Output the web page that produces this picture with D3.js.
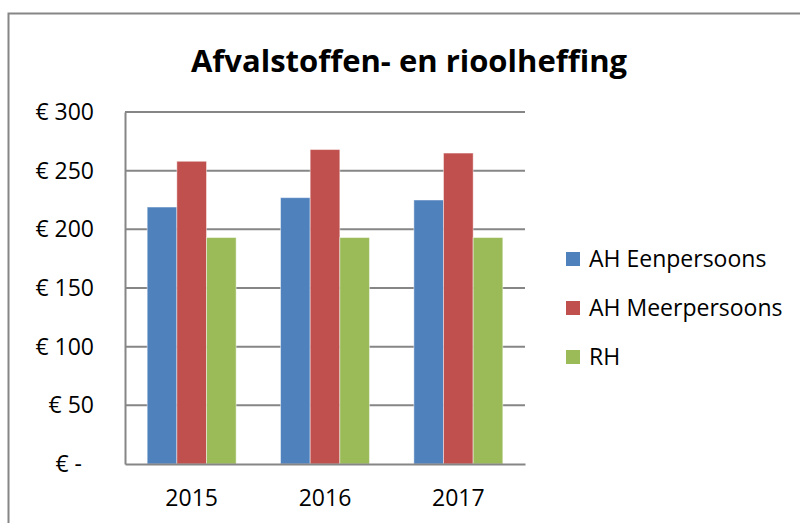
<!DOCTYPE html>
<head>
  <meta charset="utf-8">
  <title>Afvalstoffen- en rioolheffing</title>
  <script src="https://d3js.org/d3.v7.min.js"></script>
  <style>
  body { margin: 0; background: #fff; }
  text { font-family: "Open Sans", Lato, sans-serif; fill: #000; }
  .grid line { stroke: #868686; stroke-width: 2px; }
  </style>
</head>
<body>
<script type="text/javascript">
  var WIDTH = 800;
  var HEIGHT = 523;

  // data
  var years = ["2015", "2016", "2017"];
  var series = ["AH Eenpersoons", "AH Meerpersoons", "RH"];
  var eenpersoons = [219, 227, 225];
  var meerpersoons = [258, 268, 265];
  var rh = [193, 193, 193];
  var yTicks = [0, 50, 100, 150, 200, 250, 300];
  var yTickLabels = ["€ -", "€ 50", "€ 100", "€ 150", "€ 200", "€ 250", "€ 300"];
  var colors = ["#4F81BD", "#C0504D", "#9BBB59"];

  var values = [eenpersoons, meerpersoons, rh];

  var svg = d3.select("body").append("svg")
              .attr("width", WIDTH)
              .attr("height", HEIGHT);

  // outer chart border
  svg.append("rect")
    .attr("x", 8.5).attr("y", 13.5)
    .attr("width", 820).attr("height", 600)
    .attr("fill", "#fff")
    .attr("stroke", "#868686")
    .attr("stroke-width", 2);

  var plot = {left: 125, top: 112, right: 525, bottom: 464};

  var x = d3.scaleBand()
            .domain(years)
            .range([plot.left, plot.right])
            .paddingInner(0.333)
            .paddingOuter(0.1665);

  var xInner = d3.scaleBand()
                 .domain(series)
                 .range([0, x.bandwidth()]);

  var y = d3.scaleLinear()
            .domain([0, 300])
            .range([plot.bottom, plot.top]);

  // gridlines
  svg.append("g")
    .attr("class", "grid")
    .selectAll("line")
    .data(yTicks.slice(1))
    .enter()
    .append("line")
    .attr("x1", plot.left).attr("x2", plot.right)
    .attr("y1", function(d){ return y(d); })
    .attr("y2", function(d){ return y(d); });

  // bars
  var groups = svg.append("g")
                  .selectAll("g")
                  .data(years)
                  .enter()
                  .append("g")
                  .attr("transform", function(d){ return "translate(" + x(d) + ",0)"; });

  groups.selectAll("rect")
    .data(function(d, i){
      return series.map(function(s, j){ return {s: s, v: values[j][i], c: colors[j]}; });
    })
    .enter()
    .append("rect")
    .attr("x", function(d){ return xInner(d.s); })
    .attr("width", xInner.bandwidth())
    .attr("y", function(d){ return y(d.v); })
    .attr("height", function(d){ return y(0) - y(d.v); })
    .attr("fill", function(d){ return d.c; })
    .attr("stroke", "rgba(255,255,255,0.45)")
    .attr("stroke-width", 1);

  // axes
  var yAxis = d3.axisLeft(y)
                .tickValues(yTicks)
                .tickSize(0)
                .tickPadding(31)
                .tickFormat(function(d, i){ return yTickLabels[i]; });
  var gy = svg.append("g")
              .attr("transform", "translate(" + plot.left + ",0)")
              .call(yAxis);
  gy.select(".domain").attr("stroke", "#868686").attr("stroke-width", 2);
  gy.selectAll("text").style("font-size", "23px").attr("fill", "#000");
  gy.selectAll(".tick").filter(function(d){ return d === 0; })
    .select("text").attr("dx", -12);

  var xAxis = d3.axisBottom(x).tickSize(0).tickPadding(26);
  var gx = svg.append("g")
              .attr("transform", "translate(0," + plot.bottom + ")")
              .call(xAxis);
  gx.select(".domain").attr("stroke", "#868686").attr("stroke-width", 2);
  gx.selectAll("text").style("font-size", "23px").attr("fill", "#000");

  // title
  svg.append("text")
    .attr("x", 409).attr("y", 72)
    .attr("text-anchor", "middle")
    .style("font-size", "31px")
    .style("font-weight", "bold")
    .text("Afvalstoffen- en rioolheffing");

  // legend
  var legend = svg.append("g")
                  .selectAll("g")
                  .data(series)
                  .enter()
                  .append("g")
                  .attr("transform", function(d, i){ return "translate(566," + (252 + i * 49) + ")"; });
  legend.append("rect")
    .attr("width", 14).attr("height", 14)
    .attr("fill", function(d, i){ return colors[i]; });
  legend.append("text")
    .attr("x", 23).attr("y", 15)
    .style("font-size", "23px")
    .text(function(d){ return d; });
</script>
</body>
